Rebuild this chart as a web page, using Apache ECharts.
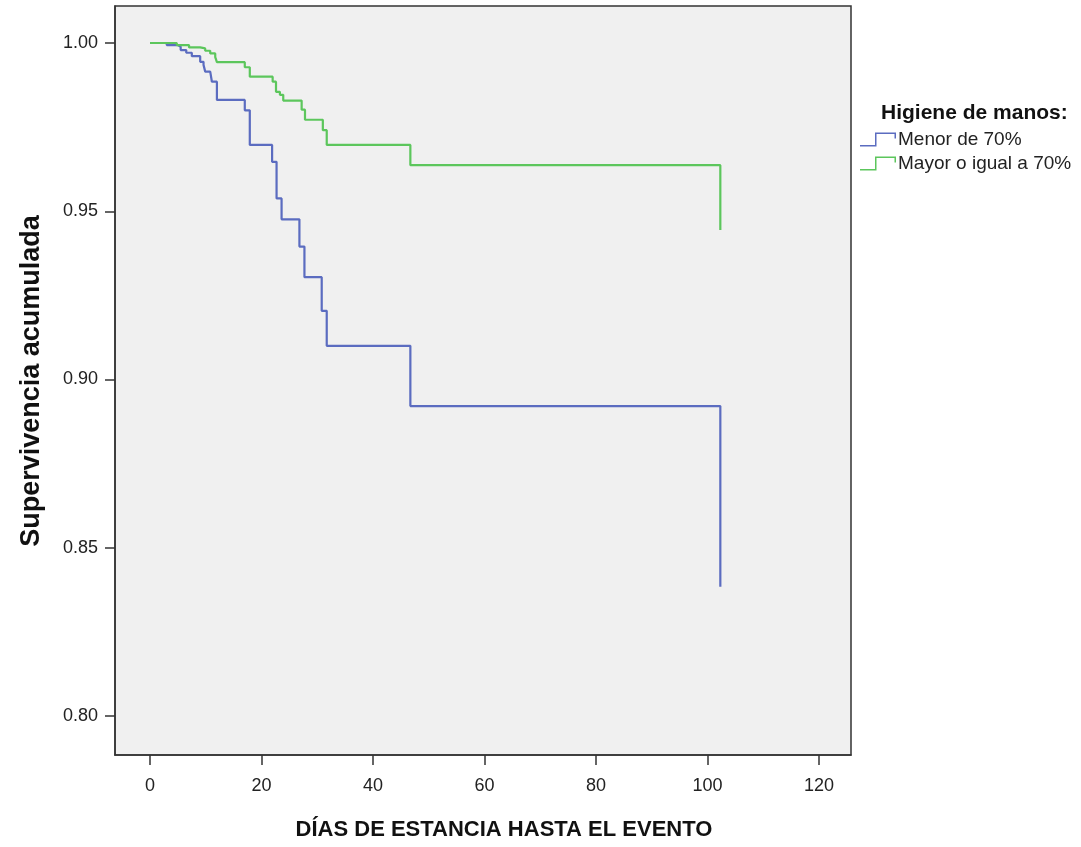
<!DOCTYPE html>
<html>
<head>
<meta charset="utf-8">
<script src="https://cdn.jsdelivr.net/npm/echarts@6/dist/echarts.min.js"></script>
<style>html,body{margin:0;padding:0;background:#fff;}#c{width:1081px;height:847px;}</style>
</head>
<body>
<div id="c"></div>
<script>
// Kaplan-Meier step data
const seriesNames = ['Menor de 70%', 'Mayor o igual a 70%'];
const lowDays = [0, 3, 5, 5.5, 6.5, 7.5, 9.0, 9.6, 9.9, 10.8, 11.1, 12.0, 17.0, 17.9, 21.9, 22.7, 23.6, 26.8, 27.7, 30.8, 31.7, 46.7, 102.3];
const lowSurv = [1.000, 0.9994, 0.9989, 0.9979, 0.9971, 0.9961, 0.9944, 0.9935, 0.9915, 0.9910, 0.9885, 0.9831, 0.9800, 0.9697, 0.9647, 0.9538, 0.9476, 0.9395, 0.9304, 0.9204, 0.9100, 0.8921, 0.8384];
const highDays = [0, 4.8, 7.0, 9.0, 9.9, 10.8, 11.7, 12.0, 17.0, 17.9, 22.0, 22.6, 23.3, 23.9, 27.2, 27.8, 31.0, 31.7, 46.7, 102.3];
const highSurv = [1.000, 0.9994, 0.9987, 0.9984, 0.9977, 0.9969, 0.9958, 0.9943, 0.9928, 0.9900, 0.9885, 0.9855, 0.9846, 0.9829, 0.9802, 0.9772, 0.9741, 0.9697, 0.9637, 0.9444];
const xTicks = [0, 20, 40, 60, 80, 100, 120];
const yTicks = [0.80, 0.85, 0.90, 0.95, 1.00];
const legendTitle = 'Higiene de manos:';
const xName = 'DÍAS DE ESTANCIA HASTA EL EVENTO';
const yName = 'Supervivencia acumulada';

const pairs = (xs, ys) => xs.map((x, i) => [x, ys[i]]);
const stepIcon = 'path://M0,12.5 L15,12.5 L15,0 L36,0 L36,6 L34.5,6 L34.5,1.5 L16.5,1.5 L16.5,14 L0,14 Z';

const chart = echarts.init(document.getElementById('c'), null, {renderer: 'canvas'});
chart.setOption({
  animation: false,
  backgroundColor: '#ffffff',
  grid: {left: 115, top: 6, width: 736, height: 749, show: true, backgroundColor: '#f0f0f0', borderColor: '#333', borderWidth: 1.5, containLabel: false},
  xAxis: {
    type: 'value', min: -6.28, max: 125.74,
    splitLine: {show: false},
    axisLine: {show: true, onZero: false, lineStyle: {color: '#333', width: 1.5}},
    axisTick: {show: true, length: 10, lineStyle: {color: '#333', width: 1.5}, customValues: xTicks},
    axisLabel: {customValues: xTicks, margin: 22, color: '#222', fontFamily: 'Liberation Sans', fontSize: 18}
  },
  yAxis: {
    type: 'value', min: 0.7884, max: 1.011,
    splitLine: {show: false},
    axisLine: {show: true, onZero: false, lineStyle: {color: '#333', width: 1.5}},
    axisTick: {show: true, length: 10, lineStyle: {color: '#333', width: 1.5}, customValues: yTicks},
    axisLabel: {customValues: yTicks, margin: 17, color: '#222', fontFamily: 'Liberation Sans', fontSize: 18, formatter: v => v.toFixed(2)}
  },
  title: {text: legendTitle, left: 876, top: 98, textStyle: {fontFamily: 'Liberation Sans', fontWeight: 'bold', fontSize: 21, color: '#111'}},
  legend: {
    orient: 'vertical', left: 855, top: 125, itemWidth: 36, itemHeight: 14, itemGap: 5,
    textStyle: {fontFamily: 'Liberation Sans', fontSize: 19, color: '#222', padding: [0, 0, 0, -3]},
    itemStyle: {borderWidth: 0},
    data: seriesNames.map(n => ({name: n, icon: stepIcon}))
  },
  graphic: [
    {type: 'text', x: 504, y: 830, style: {text: xName, align: 'center', verticalAlign: 'middle', font: 'bold 22px "Liberation Sans"', fill: '#111'}},
    {type: 'text', x: 32, y: 381, rotation: Math.PI / 2, style: {text: yName, align: 'center', verticalAlign: 'middle', font: 'bold 27px "Liberation Sans"', fill: '#111'}}
  ],
  series: [
    {name: seriesNames[0], type: 'line', step: 'end', showSymbol: false, data: pairs(lowDays, lowSurv), color: '#5b6cc0', lineStyle: {width: 2.2, color: '#5b6cc0'}},
    {name: seriesNames[1], type: 'line', step: 'end', showSymbol: false, data: pairs(highDays, highSurv), color: '#5cc65c', lineStyle: {width: 2.2, color: '#5cc65c'}}
  ]
});
</script>
</body>
</html>
